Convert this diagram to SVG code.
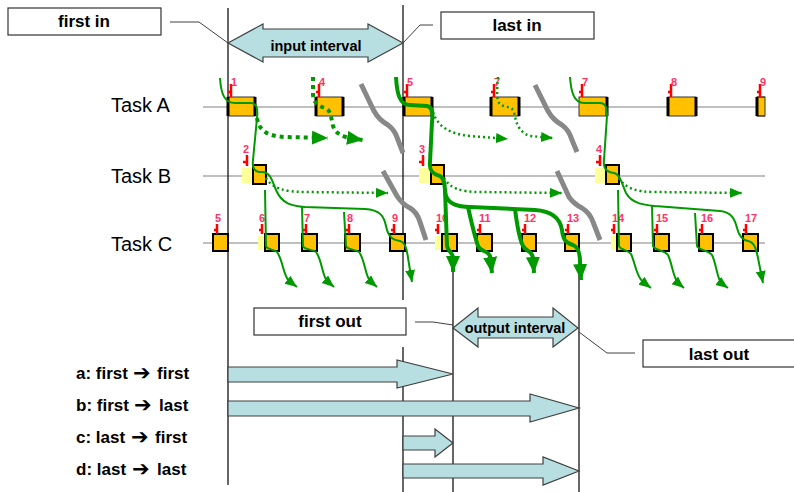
<svg xmlns="http://www.w3.org/2000/svg" width="794" height="492" viewBox="0 0 794 492">
<style>
.lbl{font-family:"Liberation Sans",Arial,sans-serif;font-weight:bold;fill:#000}
.arr{font-family:"DejaVu Sans",sans-serif;font-weight:bold;font-size:21px}
.task{font-family:"Liberation Sans",Arial,sans-serif;font-size:20px;fill:#000}
.num{font-family:"Liberation Sans",Arial,sans-serif;font-size:11px;font-weight:bold;fill:#ff3366}
.pin{stroke:#ff0000;stroke-width:2.5;fill:none}
.box{fill:#fff;stroke:#333;stroke-width:1.2}
.vline{stroke:#000;stroke-width:1.2}
.row{stroke:#c0c0c0;stroke-width:2}
.blue{fill:#b7dee1;stroke:#404040;stroke-width:1.2}
.ta{fill:#ffc000;stroke:#333;stroke-width:1}
.edge{stroke:#000;stroke-width:3}
.tc{fill:#ffc000;stroke:#000;stroke-width:2}
.shadow{fill:#ffff99}
.brk{stroke:#888;stroke-width:5;fill:none}
.g{stroke:#009900;stroke-width:2;fill:none}
.gt{stroke:#009900;stroke-width:4;fill:none}
.gd{stroke:#009900;stroke-width:2.5;fill:none;stroke-dasharray:2 3}
.gdt{stroke:#009900;stroke-width:4;fill:none;stroke-dasharray:4 4}
.call{stroke:#404040;stroke-width:1;fill:none}
</style>
<defs>
<marker id="ah" markerUnits="userSpaceOnUse" markerWidth="14" markerHeight="12" refX="12" refY="5" orient="auto">
<path d="M0,0 L12,5 L0,10 Z" fill="#009900"/>
</marker>
<marker id="ahb" markerUnits="userSpaceOnUse" markerWidth="18" markerHeight="16" refX="16" refY="7" orient="auto">
<path d="M0,0 L16,7 L0,14 Z" fill="#009900"/>
</marker>
</defs>

<g id="rows">
<line class="row" x1="203" y1="107" x2="765" y2="107"/>
<line class="row" x1="203" y1="176" x2="765" y2="176"/>
<line class="row" x1="203" y1="243" x2="765" y2="243"/>
</g>

<g id="task-labels">
<text class="task" x="111" y="112">Task A</text>
<text class="task" x="111" y="183">Task B</text>
<text class="task" x="111" y="251">Task C</text>
</g>

<g id="vlines">
<line class="vline" x1="228" y1="8" x2="228" y2="485"/>
<line class="vline" x1="403" y1="5" x2="403" y2="300"/>
<line class="vline" x1="403" y1="347" x2="403" y2="492"/>
<line class="vline" x1="453" y1="268" x2="453" y2="492"/>
<line class="vline" x1="579" y1="268" x2="579" y2="492"/>
</g>

<g id="breaks">
<path class="brk" d="M361,84 L374,111 Q379,120 388,125 Q395,130 398,140 L403,153"/>
<path class="brk" d="M383,171 L397,196 Q402,204 410,208 Q417,212 420,222 L426,240"/>
<path class="brk" d="M535,85 L548,111 Q553,120 562,125 Q569,130 572,140 L577,152"/>
<path class="brk" d="M557,171 L569,197 Q574,204 582,208 Q590,213 593,222 L600,240"/>
</g>

<g id="taskA">
<g id="a1"><rect class="ta" x="228" y="97" width="27" height="19"/><line class="edge" x1="228" y1="97" x2="228" y2="116"/><line class="edge" x1="255" y1="97" x2="255" y2="116"/><path class="pin" d="M231,84 V97 M228,92 H231"/><text class="num" x="231" y="86">1</text></g>
<g id="a2"><rect class="ta" x="316" y="97" width="27" height="19"/><line class="edge" x1="316" y1="97" x2="316" y2="116"/><line class="edge" x1="343" y1="97" x2="343" y2="116"/><path class="pin" d="M319,84 V97 M316,92 H319"/><text class="num" x="319" y="86">4</text></g>
<g id="a3"><rect class="ta" x="404" y="97" width="28" height="19"/><line class="edge" x1="404" y1="97" x2="404" y2="116"/><line class="edge" x1="432" y1="97" x2="432" y2="116"/><path class="pin" d="M407,84 V97 M404,92 H407"/><text class="num" x="407" y="86">5</text></g>
<g id="a4"><rect class="ta" x="491" y="97" width="28" height="19"/><line class="edge" x1="491" y1="97" x2="491" y2="116"/><line class="edge" x1="519" y1="97" x2="519" y2="116"/><path class="pin" d="M494,84 V97 M491,92 H494"/><text class="num" x="494" y="86">7</text></g>
<g id="a5"><rect class="ta" x="579" y="97" width="28" height="19"/><line class="edge" x1="607" y1="97" x2="607" y2="116"/><path class="pin" d="M582,84 V97 M579,92 H582"/><text class="num" x="582" y="86">7</text></g>
<g id="a6"><rect class="ta" x="668" y="97" width="28" height="19"/><line class="edge" x1="668" y1="97" x2="668" y2="116"/><line class="edge" x1="696" y1="97" x2="696" y2="116"/><path class="pin" d="M671,84 V97 M668,92 H671"/><text class="num" x="671" y="86">8</text></g>
<g id="a7"><rect class="ta" x="757" y="97" width="8" height="19" stroke="none"/><line x1="757" y1="97" x2="765" y2="97" stroke="#333"/><line x1="757" y1="116" x2="765" y2="116" stroke="#333"/><line class="edge" x1="757" y1="97" x2="757" y2="116"/><path class="pin" d="M760,84 V97 M757,92 H760"/><text class="num" x="760" y="86">9</text></g>
</g>

<g id="taskB">
<g id="b1"><rect class="shadow" x="242" y="168" width="11" height="15"/><rect class="tc" x="253" y="165" width="13" height="19"/><path class="pin" d="M247,155 V166 M243,162 H247"/><text class="num" x="243" y="153">2</text></g>
<g id="b2"><rect class="shadow" x="419" y="168" width="12" height="15"/><rect class="tc" x="431" y="165" width="13" height="19"/><path class="pin" d="M423,155 V166 M419,162 H423"/><text class="num" x="419" y="153">3</text></g>
<g id="b3"><rect class="shadow" x="595" y="168" width="11" height="15"/><rect class="tc" x="606" y="165" width="13" height="19"/><path class="pin" d="M600,155 V166 M596,162 H600"/><text class="num" x="596" y="153">4</text></g>
</g>

<g id="taskC">
<g id="c5"><rect class="tc" x="213" y="234" width="15" height="17"/><path class="pin" d="M217,224 V234 M214,230 H217"/><text class="num" x="215" y="222">5</text></g>
<g id="c6"><rect class="shadow" x="258" y="236" width="7" height="14"/><rect class="tc" x="265" y="234" width="14" height="17"/><path class="pin" d="M262,224 V234 M259,230 H262"/><text class="num" x="259" y="222">6</text></g>
<g id="c7"><rect class="tc" x="302" y="234" width="15" height="17"/><path class="pin" d="M306,224 V234 M303,230 H306"/><text class="num" x="304" y="222">7</text></g>
<g id="c8"><rect class="tc" x="345" y="234" width="15" height="17"/><path class="pin" d="M349,224 V234 M346,230 H349"/><text class="num" x="347" y="222">8</text></g>
<g id="c9"><rect class="tc" x="390" y="234" width="15" height="17"/><path class="pin" d="M394,224 V234 M391,230 H394"/><text class="num" x="392" y="222">9</text></g>
<g id="c10"><rect class="shadow" x="435" y="236" width="7" height="14"/><rect class="tc" x="442" y="234" width="15" height="17"/><path class="pin" d="M438,224 V234 M435,230 H438"/><text class="num" x="436" y="222">10</text></g>
<g id="c11"><rect class="tc" x="477" y="234" width="15" height="17"/><path class="pin" d="M480,224 V234 M477,230 H480"/><text class="num" x="479" y="222">11</text></g>
<g id="c12"><rect class="tc" x="522" y="234" width="14" height="17"/><path class="pin" d="M525,224 V234 M522,230 H525"/><text class="num" x="524" y="222">12</text></g>
<g id="c13"><rect class="tc" x="565" y="234" width="14" height="17"/><path class="pin" d="M568,224 V234 M565,230 H568"/><text class="num" x="567" y="222">13</text></g>
<g id="c14"><rect class="shadow" x="611" y="236" width="6" height="14"/><rect class="tc" x="617" y="234" width="14" height="17"/><path class="pin" d="M614,224 V234 M611,230 H614"/><text class="num" x="612" y="222">14</text></g>
<g id="c15"><rect class="tc" x="654" y="234" width="15" height="17"/><path class="pin" d="M657,224 V234 M654,230 H657"/><text class="num" x="656" y="222">15</text></g>
<g id="c16"><rect class="tc" x="699" y="234" width="14" height="17"/><path class="pin" d="M702,224 V234 M699,230 H702"/><text class="num" x="701" y="222">16</text></g>
<g id="c17"><rect class="tc" x="743" y="234" width="15" height="17"/><path class="pin" d="M746,224 V234 M743,230 H746"/><text class="num" x="745" y="222">17</text></g>
</g>

<g id="connectors">
<path class="g" marker-end="url(#ah)" d="M220,78 C221,95 225,103 235,103 L251,103 C257,103 258,110 257,118 L253,160 C252,168 254,172 262,172 C270,172 272,180 276,190 C282,204 292,206 305,207 L365,209 C380,210 384,216 386,226 C388,236 392,240 400,241 C405,242 407,248 408,258 L412,282"/>
<path class="g" marker-end="url(#ah)" d="M265,190 L266,246 C267,250 274,249 277,252 C283,260 283,275 289,281 L297,287"/>
<path class="g" marker-end="url(#ah)" d="M302,207 L303,246 C304,250 312,249 316,252 C322,260 322,275 327,281 L334,287"/>
<path class="g" marker-end="url(#ah)" d="M344,212 L346,246 C347,250 355,249 359,252 C365,260 365,275 370,281 L377,287"/>
<path class="gt" marker-end="url(#ahb)" d="M396,77 C397,95 400,105 410,105 L427,106 C433,107 433,114 432,122 L430,162 C429,170 432,174 440,176 C446,179 444,190 446,196 C449,204 458,207 470,207 L535,210 C552,211 560,218 562,230 C563,240 566,243 573,245 C578,247 580,252 580,262 L581,280"/>
<path class="gt" marker-end="url(#ahb)" d="M445,190 L447,246 C448,252 453,252 453,258 L453,272"/>
<path class="gt" marker-end="url(#ahb)" d="M468,207 C472,225 476,240 478,246 C480,252 488,250 490,256 L492,273"/>
<path class="gt" marker-end="url(#ahb)" d="M515,209 C517,225 520,240 523,246 C526,252 532,250 533,258 L534,273"/>
<path class="g" marker-end="url(#ah)" d="M570,77 C571,92 574,103 584,103 L600,103 C606,103 607,108 607,116 L604,160 C603,168 606,172 614,173 C620,174 622,184 626,193 C632,204 645,205 655,206 L720,211 C732,212 735,220 737,228 C739,236 742,240 748,241 C754,242 756,248 758,258 L763,283"/>
<path class="g" marker-end="url(#ah)" d="M618,190 L619,246 C620,250 628,250 631,254 C635,262 636,276 643,282 L651,288"/>
<path class="g" marker-end="url(#ah)" d="M652,206 L653,246 C654,250 664,250 668,255 C672,263 673,277 678,283 L684,288"/>
<path class="g" marker-end="url(#ah)" d="M695,213 L697,246 C698,250 708,250 712,255 C716,263 717,277 721,283 L728,288"/>
<path class="gdt" marker-end="url(#ahb)" d="M257,118 C259,130 266,136 285,137 L328,138"/>
<path class="gdt" marker-end="url(#ahb)" d="M313,77 L313,95 C314,103 318,106 325,108 C331,110 331,118 333,126 C336,134 342,137 356,139 L363,140"/>
<path class="gd" marker-end="url(#ah)" d="M433,112 C437,125 448,134 470,136 L508,139"/>
<path class="gd" marker-end="url(#ah)" d="M498,77 C497,90 496,100 500,104 C505,108 512,106 514,112 C516,122 518,132 530,136 L553,138"/>
<path class="gd" marker-end="url(#ah)" d="M266,178 C272,188 284,192 305,192 L388,193"/>
<path class="gd" marker-end="url(#ah)" d="M444,178 C450,188 460,192 480,192 L562,193"/>
<path class="gd" marker-end="url(#ah)" d="M619,178 C625,188 636,192 655,192 L742,193"/>
<path class="call" d="M170,22 L199,22 L228,43"/>
<path class="call" d="M433,25 L420,25 L403,43"/>
<path class="call" d="M415,322 L433,322 L453,325"/>
<path class="call" d="M579,332 L607,353 L635,353"/>
</g>

<g id="input-interval">
<polygon class="blue" points="228,43 263,24 263,29 368,29 368,24 403,43 368,62 368,57 263,57 263,62"/>
<text class="lbl" x="316" y="51" font-size="14.5" text-anchor="middle">input interval</text>
</g>
<g id="output-interval">
<polygon class="blue" points="453,328 478,308 478,317 553,317 553,308 578,328 553,347 553,338 478,338 478,347"/>
<text class="lbl" x="515" y="333" font-size="14.5" text-anchor="middle">output interval</text>
</g>

<g id="first-in"><rect class="box" x="8" y="8" width="153" height="27"/><text class="lbl" x="84" y="27" font-size="17" text-anchor="middle">first in</text></g>
<g id="last-in"><rect class="box" x="441" y="12" width="153" height="27"/><text class="lbl" x="517" y="31" font-size="17" text-anchor="middle">last in</text></g>
<g id="first-out"><rect class="box" x="254" y="308" width="152" height="27"/><text class="lbl" x="330" y="327" font-size="17" text-anchor="middle">first out</text></g>
<g id="last-out"><rect class="box" x="643" y="340" width="153" height="27"/><text class="lbl" x="719" y="360" font-size="17" text-anchor="middle">last out</text></g>

<g id="lat-a"><text class="lbl" x="76" y="379" font-size="17">a: first <tspan class="arr" x="133" y="380">➔</tspan><tspan x="157" y="379">first</tspan></text><polygon class="blue" points="228,367 397,367 397,360 453,374 397,388 397,382 228,382"/></g>
<g id="lat-b"><text class="lbl" x="76" y="411" font-size="17">b: first <tspan class="arr" x="134" y="412">➔</tspan><tspan x="159" y="411">last</tspan></text><polygon class="blue" points="228,401 530,401 530,394 579,408 530,422 530,416 228,416"/></g>
<g id="lat-c"><text class="lbl" x="76" y="443" font-size="17">c: last <tspan class="arr" x="131" y="444">➔</tspan><tspan x="155" y="443">first</tspan></text><polygon class="blue" points="403,436 435,436 435,429 453,443 435,457 435,450 403,450"/></g>
<g id="lat-d"><text class="lbl" x="76" y="475" font-size="17">d: last <tspan class="arr" x="132" y="476">➔</tspan><tspan x="157" y="475">last</tspan></text><polygon class="blue" points="403,464 543,464 543,457 579,471 543,485 543,478 403,478"/></g>
</svg>
